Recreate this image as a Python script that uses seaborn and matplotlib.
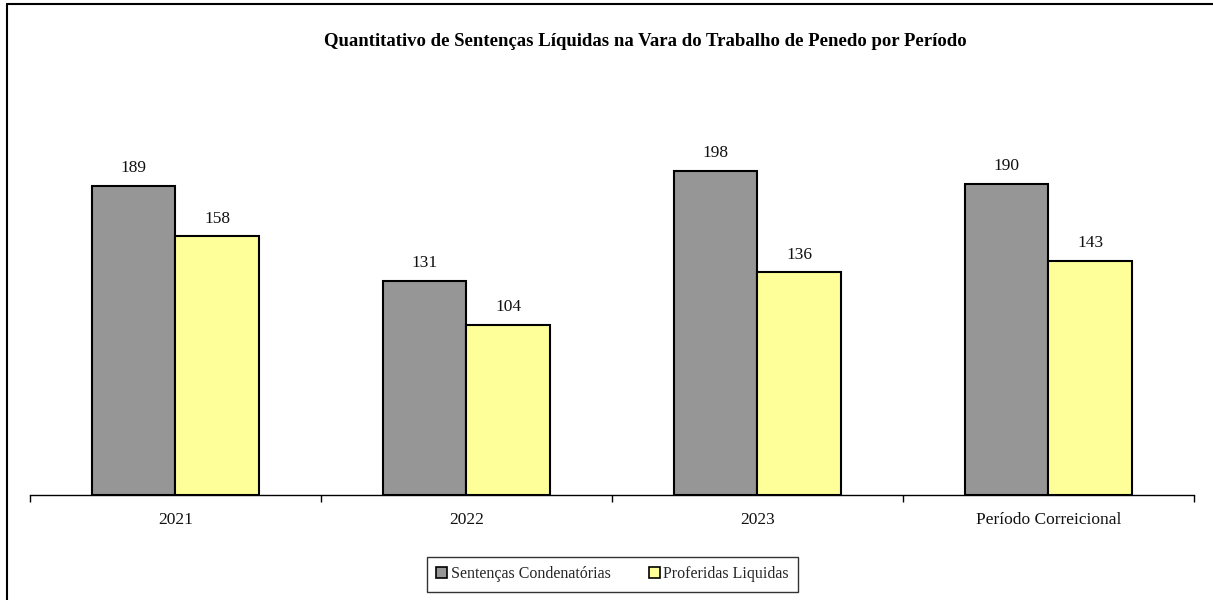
import pandas as pd
import matplotlib.pyplot as plt
import seaborn as sns
from matplotlib.lines import Line2D

# data
periodos = ['2021', '2022', '2023', 'Período Correicional']
condenatorias = [189, 131, 198, 190]
liquidas = [158, 104, 136, 143]
series = ['Sentenças Condenatórias', 'Proferidas Liquidas']

df = pd.DataFrame({
    'periodo': periodos * 2,
    'valor': condenatorias + liquidas,
    'serie': [series[0]] * 4 + [series[1]] * 4,
})

sns.set_theme(style="white")
plt.rcParams['font.family'] = ['Liberation Serif', 'DejaVu Serif']

fig = plt.figure(figsize=(12.13, 6.0), dpi=100)
ax = fig.add_axes([0.0247, 0.175, 0.9596, 0.6817])

sns.barplot(data=df, x='periodo', y='valor', hue='serie', order=periodos,
            hue_order=series, palette=['#969696', '#FFFF99'], width=0.574,
            edgecolor='black', linewidth=1.5, saturation=1, ax=ax, legend=False)

for cont in ax.containers:
    ax.bar_label(cont, labels=[str(int(v)) for v in cont.datavalues],
                 padding=7, fontsize=12.5, color='#111111')

ax.set_ylim(0, 250)
ax.set_xlim(-0.5, 3.5)
ax.set_xlabel('')
ax.set_ylabel('')
ax.set_yticks([])
for s in ['top', 'right', 'left']:
    ax.spines[s].set_visible(False)
ax.spines['bottom'].set_color('black')
ax.spines['bottom'].set_linewidth(1.0)

ax.tick_params(axis='x', which='major', length=0, pad=12, labelsize=12.5, labelcolor='#111111')
ax.set_xticks([-0.5, 0.5, 1.5, 2.5, 3.5], minor=True)
ax.tick_params(axis='x', which='minor', length=5, width=1, color='black', direction='out', bottom=True)

fig.text(0.532, 0.931, 'Quantitativo de Sentenças Líquidas na Vara do Trabalho de Penedo por Período',
         ha='center', va='center', fontsize=13.5, fontweight='bold', color='black')

handles = [plt.Rectangle((0, 0), 1, 1, facecolor=c, edgecolor='black', linewidth=1.2)
           for c in ['#969696', '#FFFF99']]
leg = fig.legend(handles, series, loc='center', bbox_to_anchor=(0.505, 0.043), ncol=2,
                 fontsize=11.5, frameon=True, fancybox=False, handlelength=0.7, handleheight=0.7,
                 handletextpad=0.2, columnspacing=2.4, borderpad=0.6, borderaxespad=0)
leg.get_frame().set_edgecolor('black')
leg.get_frame().set_linewidth(1.0)

# outer border (left and top)
fig.add_artist(Line2D([0.0058, 0.0058], [0, 0.993], transform=fig.transFigure, color='black', lw=1.5))
fig.add_artist(Line2D([0.0058, 1.0], [0.993, 0.993], transform=fig.transFigure, color='black', lw=1.5))

plt.savefig('out.png', dpi=100)
